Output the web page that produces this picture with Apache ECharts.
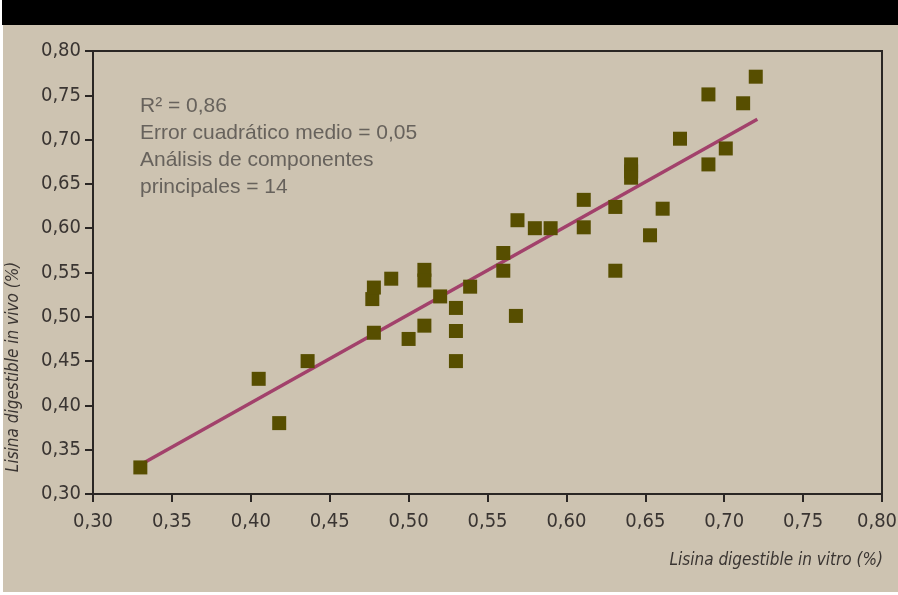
<!DOCTYPE html>
<html>
<head>
<meta charset="utf-8">
<script src="https://cdn.jsdelivr.net/npm/echarts@6/dist/echarts.min.js"></script>
<style>
  html, body { margin: 0; padding: 0; background: #ffffff; }
  #chart { width: 898px; height: 595px; }
</style>
</head>
<body>
<div id="chart"></div>
<script>
// Lisina digestible: in vitro (x) vs in vivo (y), in %
const vitro = [0.33, 0.405, 0.418, 0.436, 0.478, 0.477, 0.478, 0.489, 0.50, 0.51,
               0.51, 0.51, 0.52, 0.53, 0.53, 0.53, 0.539, 0.56, 0.56, 0.568,
               0.569, 0.58, 0.59, 0.611, 0.611, 0.631, 0.631, 0.641, 0.641, 0.641,
               0.653, 0.661, 0.672, 0.69, 0.69, 0.701, 0.712, 0.72];
const vivo  = [0.33, 0.43, 0.38, 0.45, 0.482, 0.52, 0.533, 0.543, 0.475, 0.553,
               0.541, 0.49, 0.523, 0.51, 0.484, 0.45, 0.534, 0.572, 0.552, 0.501,
               0.609, 0.60, 0.60, 0.632, 0.601, 0.624, 0.552, 0.672, 0.664, 0.657,
               0.592, 0.622, 0.701, 0.672, 0.751, 0.69, 0.741, 0.771];

// Fitted regression line end points
const fitX = [0.332, 0.721];
const fitY = [0.335, 0.723];

const xTicks = { min: 0.30, max: 0.80, step: 0.05 };
const yTicks = { min: 0.30, max: 0.80, step: 0.05 };

const statsLines = [
  'R² = 0,86',
  'Error cuadrático medio = 0,05',
  'Análisis de componentes',
  'principales = 14'
];
const xTitle = 'Lisina digestible in vitro (%)';
const yTitle = 'Lisina digestible in vivo (%)';

const points = vitro.map((v, i) => [v, vivo[i]]);
const fitLine = fitX.map((v, i) => [v, fitY[i]]);

const narrow = '"Liberation Sans Narrow", "DejaVu Sans Condensed", "Roboto Condensed", sans-serif';
const fmt = v => v.toFixed(2).replace('.', ',');
// keep the last x label inside the page edge
const fmtX = v => (Math.abs(v - xTicks.max) < 1e-9 ? '{edge|' + fmt(v) + '}' : fmt(v));

const chart = echarts.init(document.getElementById('chart'), null, { renderer: 'canvas' });
chart.setOption({
  animation: false,
  backgroundColor: '#ffffff',
  graphic: [
    { type: 'rect', z: -10, shape: { x: 3, y: 25, width: 895, height: 567 }, style: { fill: '#cdc3b1' } },
    { type: 'rect', z: -10, shape: { x: 2, y: 0, width: 896, height: 25 }, style: { fill: '#000000' } },
    {
      type: 'text', left: 140, top: 93, z: 10,
      style: {
        text: statsLines.join('\n'),
        font: '21px "Liberation Sans", Arial, sans-serif',
        lineHeight: 27,
        fill: '#67625c'
      }
    },
    {
      type: 'text', z: 10, x: 883, y: 561,
      style: {
        text: xTitle, align: 'right', verticalAlign: 'middle',
        font: 'italic 17px ' + narrow, fill: '#3a3532'
      }
    },
    {
      type: 'text', z: 10, x: 14, y: 367, rotation: Math.PI / 2,
      style: {
        text: yTitle, align: 'center', verticalAlign: 'middle',
        font: 'italic 17px ' + narrow, fill: '#3a3532'
      }
    }
  ],
  grid: {
    left: 93, top: 51, width: 789, height: 443,
    outerBoundsMode: 'none',
    containLabel: false,
    show: true, borderColor: '#2a2624', borderWidth: 2, backgroundColor: 'transparent'
  },
  xAxis: {
    type: 'value', min: xTicks.min, max: xTicks.max, interval: xTicks.step,
    axisLine: { lineStyle: { color: '#2a2624', width: 2 } },
    axisTick: { show: true, length: 8, lineStyle: { color: '#2a2624', width: 2 } },
    splitLine: { show: false },
    axisLabel: {
      margin: 18, color: '#3a3532', fontSize: 20, fontFamily: narrow,
      formatter: fmtX,
      rich: {
        edge: { padding: [0, 10, 0, 0], color: '#3a3532', fontSize: 20, fontFamily: narrow }
      }
    }
  },
  yAxis: {
    type: 'value', min: yTicks.min, max: yTicks.max, interval: yTicks.step,
    axisLine: { lineStyle: { color: '#2a2624', width: 2 } },
    axisTick: { show: true, length: 8, lineStyle: { color: '#2a2624', width: 2 } },
    splitLine: { show: false },
    axisLabel: {
      margin: 12, color: '#3a3532', fontSize: 20, fontFamily: narrow,
      formatter: fmt
    }
  },
  series: [
    {
      type: 'line', data: fitLine, symbol: 'none', z: 2,
      lineStyle: { color: '#a2416b', width: 3.5 }
    },
    {
      type: 'scatter', data: points, symbol: 'rect', symbolSize: 14, z: 3,
      itemStyle: { color: '#574e00', opacity: 1 }
    }
  ]
});
</script>
</body>
</html>
